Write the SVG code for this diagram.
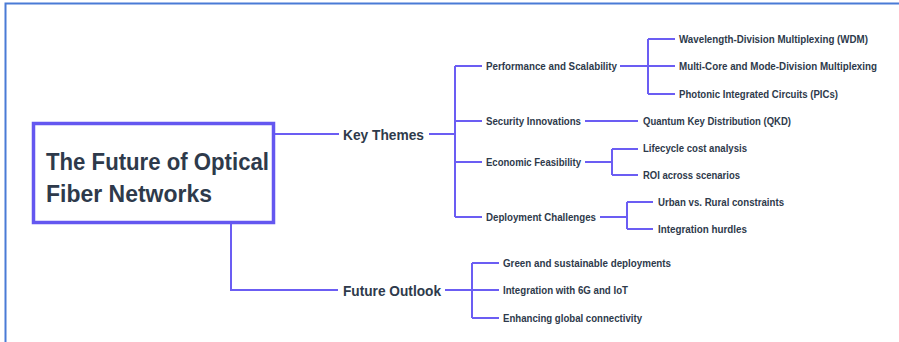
<svg xmlns="http://www.w3.org/2000/svg" width="899" height="342" viewBox="0 0 899 342">
<style>
text{font-family:"Liberation Sans","DejaVu Sans",Arial,sans-serif;font-weight:bold;fill:#2e3a4b}
.t1{font-size:24px}
.t2{font-size:15px}
.t3{font-size:10px}
.c{fill:none;stroke:#6b5df3;stroke-width:2}
</style>
<rect x="0" y="0" width="899" height="342" fill="#ffffff"/>
<path d="M5.5 342 V3.5 H899" fill="none" stroke="#4a7bd6" stroke-width="2"/>
<g id="connectors">
<path class="c" d="M275 134 H339"/>
<path class="c" d="M231 224 V290 H338"/>
<path class="c" d="M429 134 H455 M455 66 V217 M455 66 H482 M455 121 H482 M455 162 H482 M455 217 H482"/>
<path class="c" d="M620 66 H648 M648 39 V94 M648 39 H675 M648 66 H675 M648 94 H675"/>
<path class="c" d="M585 121 H638"/>
<path class="c" d="M585 162 H612 M612 149 V175 M612 149 H638 M612 175 H638"/>
<path class="c" d="M600 217 H627 M627 202 V229 M627 202 H653 M627 229 H653"/>
<path class="c" d="M445 290 H472 M472 263 V318 M472 263 H499 M472 290 H499 M472 318 H499"/>
</g>
<g id="root">
<rect x="33.5" y="123.5" width="240" height="99" fill="#ffffff" stroke="#6457f0" stroke-width="3.5"/>
<text class="t1" x="46" y="170" textLength="223" lengthAdjust="spacingAndGlyphs">The Future of Optical</text>
<text class="t1" x="46" y="202" textLength="166" lengthAdjust="spacingAndGlyphs">Fiber Networks</text>
</g>
<g id="key-themes"><text class="t2" x="343" y="139.5" textLength="81" lengthAdjust="spacingAndGlyphs">Key Themes</text></g>
<g id="future-outlook"><text class="t2" x="343" y="295.5" textLength="98" lengthAdjust="spacingAndGlyphs">Future Outlook</text></g>
<g id="performance"><text class="t3" x="486" y="69.5" textLength="131" lengthAdjust="spacingAndGlyphs">Performance and Scalability</text></g>
<g id="security"><text class="t3" x="486" y="124.5" textLength="95" lengthAdjust="spacingAndGlyphs">Security Innovations</text></g>
<g id="economic"><text class="t3" x="486" y="165.5" textLength="95" lengthAdjust="spacingAndGlyphs">Economic Feasibility</text></g>
<g id="deployment"><text class="t3" x="486" y="220.5" textLength="110" lengthAdjust="spacingAndGlyphs">Deployment Challenges</text></g>
<g id="wdm"><text class="t3" x="679" y="42.5" textLength="189" lengthAdjust="spacingAndGlyphs">Wavelength-Division Multiplexing (WDM)</text></g>
<g id="multicore"><text class="t3" x="679" y="69.5" textLength="198" lengthAdjust="spacingAndGlyphs">Multi-Core and Mode-Division Multiplexing</text></g>
<g id="pics"><text class="t3" x="679" y="97.5" textLength="159" lengthAdjust="spacingAndGlyphs">Photonic Integrated Circuits (PICs)</text></g>
<g id="qkd"><text class="t3" x="643" y="124.5" textLength="148" lengthAdjust="spacingAndGlyphs">Quantum Key Distribution (QKD)</text></g>
<g id="lifecycle"><text class="t3" x="643" y="151.5" textLength="104" lengthAdjust="spacingAndGlyphs">Lifecycle cost analysis</text></g>
<g id="roi"><text class="t3" x="643" y="178.5" textLength="97" lengthAdjust="spacingAndGlyphs">ROI across scenarios</text></g>
<g id="urban"><text class="t3" x="658" y="205.5" textLength="126" lengthAdjust="spacingAndGlyphs">Urban vs. Rural constraints</text></g>
<g id="hurdles"><text class="t3" x="658" y="232.5" textLength="89" lengthAdjust="spacingAndGlyphs">Integration hurdles</text></g>
<g id="green"><text class="t3" x="503" y="266.5" textLength="168" lengthAdjust="spacingAndGlyphs">Green and sustainable deployments</text></g>
<g id="6g"><text class="t3" x="503" y="293.5" textLength="125" lengthAdjust="spacingAndGlyphs">Integration with 6G and IoT</text></g>
<g id="global"><text class="t3" x="503" y="321.5" textLength="139" lengthAdjust="spacingAndGlyphs">Enhancing global connectivity</text></g>
</svg>
